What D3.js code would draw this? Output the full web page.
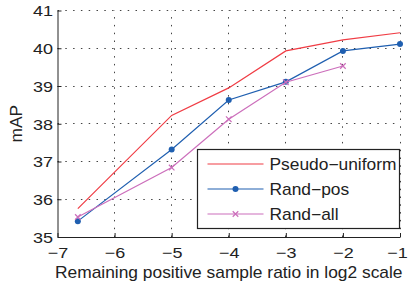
<!doctype html>
<html lang="en">
	<head>
		<meta charset="utf-8">
		<title>mAP vs remaining positive ratio</title>
		<style type="text/css">
			body {
				margin: 0;
				background-color: white;
				font-family: "Liberation Sans", Arial, Helvetica, sans-serif;
			}
			svg {
				display: block;
				background-color: white;
			}
			.grid line {
				stroke: #444;
				stroke-width: 1px;
				stroke-dasharray: 1.5,6.3;
			}
			.axis path,
			.axis line {
				fill: none;
				stroke: #222;
				stroke-width: 1px;
			}
			.axis text {
				font-size: 15px;
				fill: #222;
			}
			.label {
				font-size: 15.8px;
				fill: #222;
			}
			path.line {
				fill: none;
				stroke-width: 1.2px;
			}
			.legend text {
				font-size: 15.8px;
				fill: #222;
			}
		</style>
	</head>
	<body>
		<script type="text/javascript" src="https://cdnjs.cloudflare.com/ajax/libs/d3/7.8.5/d3.min.js"></script>
		<script type="text/javascript">
			// x positions in log2 scale (first point is 1%)
			var xValues = [Math.log2(0.01), -5, -4, -3, -2, -1];
			var pseudoUniform = [35.75, 38.22, 38.95, 39.93, 40.22, 40.41];
			var randPos = [35.42, 37.32, 38.63, 39.11, 39.93, 40.11];
			var randAll = [35.53, 36.84, 38.12, 39.1, 39.53];
			var xTicks = [-7, -6, -5, -4, -3, -2, -1];
			var yTicks = [35, 36, 37, 38, 39, 40, 41];
			var seriesNames = ["Pseudo\u2212uniform", "Rand\u2212pos", "Rand\u2212all"];
			var seriesColors = ["#f03c44", "#1f5fb0", "#cc6ebb"];

			var fullwidth = 409;
			var fullheight = 283;
			var margin = { top: 10.5, right: 9, bottom: 46, left: 57.5 };
			var width = fullwidth - margin.left - margin.right;
			var height = fullheight - margin.top - margin.bottom;
			var tickStretch = 1.2;  // tick digits in the picture are wide
			var textStretch = 1.1;

			var xScale = d3.scaleLinear().domain([-7, -1]).range([0, width]);
			var yScale = d3.scaleLinear().domain([35, 41]).range([height, 0]);

			var svg = d3.select("body")
				.append("svg")
				.attr("width", fullwidth)
				.attr("height", fullheight)
				.append("g")
				.attr("transform", "translate(" + margin.left + "," + margin.top + ")");

			// dotted grid (snapped to whole pixels so the dots stay sharp)
			var grid = svg.append("g").attr("class", "grid");
			grid.selectAll("line.v")
				.data(xTicks.slice(1))
				.enter()
				.append("line")
				.attr("x1", function(d) { return Math.round(xScale(d)); })
				.attr("x2", function(d) { return Math.round(xScale(d)); })
				.attr("y1", height)
				.attr("y2", 0);
			grid.selectAll("line.h")
				.data(yTicks.slice(1))
				.enter()
				.append("line")
				.attr("x1", 0)
				.attr("x2", width)
				.attr("y1", function(d) { return Math.round(yScale(d)); })
				.attr("y2", function(d) { return Math.round(yScale(d)); });

			var minus = function(d) { return String(d).replace("-", "\u2212"); };

			var xAxis = d3.axisBottom(xScale)
				.tickValues(xTicks)
				.tickSizeInner(-4)
				.tickSizeOuter(0)
				.tickPadding(10)
				.tickFormat(minus);
			var yAxis = d3.axisLeft(yScale)
				.tickValues(yTicks)
				.tickSizeInner(-4)
				.tickSizeOuter(0)
				.tickPadding(4.5)
				.tickFormat(minus);

			svg.append("g")
				.attr("class", "x axis")
				.attr("transform", "translate(0," + height + ")")
				.call(xAxis);
			svg.append("g")
				.attr("class", "y axis")
				.call(yAxis);
			svg.selectAll(".x.axis text")
				.attr("x", function(d) { return d === -1 ? -3 / tickStretch : 0; })
				.attr("transform", "scale(" + tickStretch + ",1)");
			svg.selectAll(".y.axis text")
				.attr("dy", "0.36em")
				.attr("x", -4.5 / tickStretch)
				.attr("transform", "scale(" + tickStretch + ",1)");

			// axis labels
			svg.append("text")
				.attr("class", "label")
				.attr("transform", "translate(" + (width / 2) + "," + (height + 41) + ") scale(" + textStretch + ",1)")
				.attr("text-anchor", "middle")
				.text("Remaining positive sample ratio in log2 scale");
			svg.append("text")
				.attr("class", "label")
				.attr("transform", "translate(" + (-36) + "," + (height / 2) + ") rotate(-90) scale(" + textStretch + ",1)")
				.attr("text-anchor", "middle")
				.text("mAP");

			var line = d3.line()
				.x(function(d) { return xScale(d.x); })
				.y(function(d) { return yScale(d.y); });

			var dataset = [pseudoUniform, randPos, randAll].map(function(vals, i) {
				return {
					name: seriesNames[i],
					color: seriesColors[i],
					values: vals.map(function(v, j) { return { x: xValues[j], y: v }; })
				};
			});

			var groups = svg.selectAll("g.series")
				.data(dataset)
				.enter()
				.append("g")
				.attr("class", "series");
			groups.append("path")
				.attr("class", "line")
				.attr("stroke", function(d) { return d.color; })
				.attr("d", function(d) { return line(d.values); });

			// markers
			groups.filter(function(d, i) { return i === 1; })
				.selectAll("circle")
				.data(function(d) { return d.values; })
				.enter()
				.append("circle")
				.attr("cx", function(d) { return xScale(d.x); })
				.attr("cy", function(d) { return yScale(d.y); })
				.attr("r", 3)
				.attr("fill", seriesColors[1]);
			var cross = d3.symbol().type(d3.symbolX).size(22);
			groups.filter(function(d, i) { return i === 2; })
				.selectAll("path.mark")
				.data(function(d) { return d.values; })
				.enter()
				.append("path")
				.attr("class", "mark")
				.attr("d", cross)
				.attr("transform", function(d) { return "translate(" + xScale(d.x) + "," + yScale(d.y) + ")"; })
				.attr("fill", "none")
				.attr("stroke", seriesColors[2])
				.attr("stroke-width", 1.2);

			// legend
			var lx = 197.5 - margin.left, ly = 149.5 - margin.top;
			var legend = svg.append("g")
				.attr("class", "legend")
				.attr("transform", "translate(" + lx + "," + ly + ")");
			legend.append("rect")
				.attr("width", 202)
				.attr("height", 79)
				.attr("fill", "white")
				.attr("stroke", "#222")
				.attr("stroke-width", 1.2);
			var items = legend.selectAll("g.item")
				.data(dataset)
				.enter()
				.append("g")
				.attr("class", "item")
				.attr("transform", function(d, i) { return "translate(0," + (14.5 + i * 25) + ")"; });
			items.append("line")
				.attr("x1", 10)
				.attr("x2", 66)
				.attr("stroke", function(d) { return d.color; })
				.attr("stroke-width", 1.2);
			items.filter(function(d, i) { return i === 1; })
				.append("circle")
				.attr("cx", 38)
				.attr("r", 3)
				.attr("fill", seriesColors[1]);
			items.filter(function(d, i) { return i === 2; })
				.append("path")
				.attr("d", cross)
				.attr("transform", "translate(38,0)")
				.attr("fill", "none")
				.attr("stroke", seriesColors[2])
				.attr("stroke-width", 1.2);
			items.append("text")
				.attr("transform", "translate(72,0) scale(" + textStretch + ",1)")
				.attr("dy", "0.36em")
				.text(function(d) { return d.name; });
		</script>
	</body>
</html>
